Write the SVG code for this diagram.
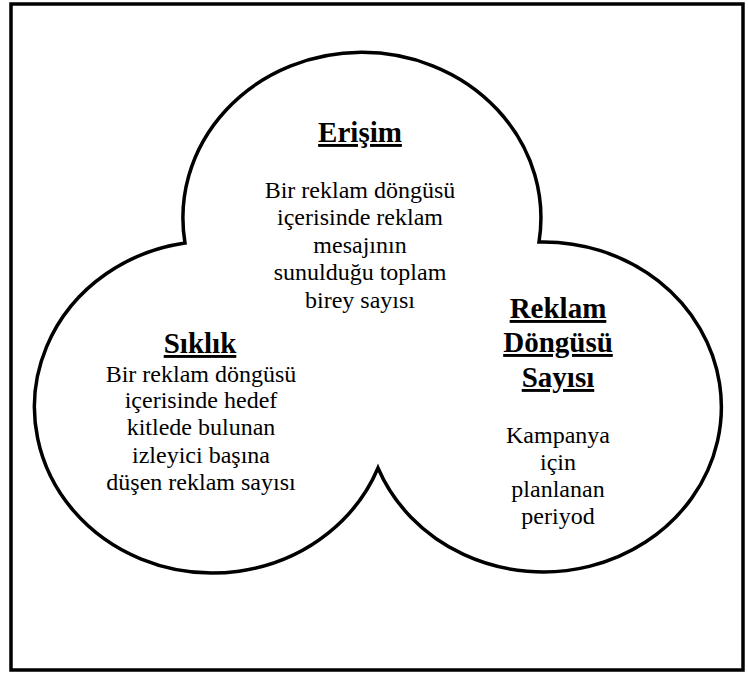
<svg xmlns="http://www.w3.org/2000/svg" width="748" height="673" viewBox="0 0 748 673">
<style>
.t{font-size:24px}
.h{font-size:29px;font-weight:bold;text-decoration:underline}
.ln{fill:none;stroke:#000;stroke-width:3.5}
</style>
<rect x="0" y="0" width="748" height="673" fill="#fff"/>
<rect id="frame" class="ln" x="11" y="4" width="732" height="666"/>
<g id="cloud">
<path class="ln" d="M185,243 A179,165.5 0 1 1 539,242 A178,165 0 1 1 378,468 A178,166 0 1 1 185,243 Z"/>
</g>
<g font-family="'Liberation Serif', 'Times New Roman', serif" fill="#000" text-anchor="middle">
<g id="erisim">
<text class="h" x="360" y="142">Erişim</text>
<text class="t" x="360" y="198">Bir reklam döngüsü</text>
<text class="t" x="360" y="225">içerisinde reklam</text>
<text class="t" x="360" y="253">mesajının</text>
<text class="t" x="360" y="280">sunulduğu toplam</text>
<text class="t" x="360" y="308">birey sayısı</text>
</g>
<g id="siklik">
<text class="h" x="200" y="353">Sıklık</text>
<text class="t" x="201" y="382">Bir reklam döngüsü</text>
<text class="t" x="201" y="408">içerisinde hedef</text>
<text class="t" x="201" y="435">kitlede bulunan</text>
<text class="t" x="201" y="463">izleyici başına</text>
<text class="t" x="201" y="490">düşen reklam sayısı</text>
</g>
<g id="reklam-dongusu-sayisi">
<text class="h" x="558" y="318">Reklam</text>
<text class="h" x="558" y="352">Döngüsü</text>
<text class="h" x="558" y="387">Sayısı</text>
<text class="t" x="558" y="443">Kampanya</text>
<text class="t" x="558" y="470">için</text>
<text class="t" x="558" y="497">planlanan</text>
<text class="t" x="558" y="524">periyod</text>
</g>
</g>
<g id="connectors"/>
</svg>
